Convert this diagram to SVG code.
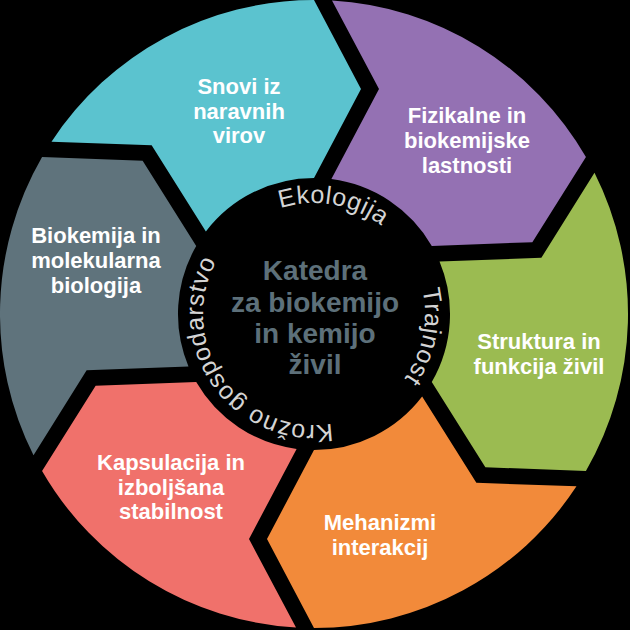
<svg xmlns="http://www.w3.org/2000/svg" width="630" height="630" viewBox="0 0 630 630">
<style>
.lbl{font-family:"Liberation Sans",Arial,sans-serif;font-weight:bold;font-size:22px;fill:#ffffff;text-anchor:middle}
.ttl{font-family:"Liberation Sans",Arial,sans-serif;font-weight:bold;font-size:28px;fill:#5d707a;text-anchor:middle}
.ring{font-family:"Liberation Sans",Arial,sans-serif;font-size:25px;fill:#d4d4d4;letter-spacing:0.6px}
</style>
<defs>
<path id="seg" d="M332,0.5 L379,89 L331.4,179.1 A136 136 0 0 1 431.78,246 L532.35,242.2 L585.93,157 A314 314 0 0 0 332,0.5 Z"/>
<path id="ringpath" d="M369.5,410.13 A111 111 0 0 1 258.5,217.87 A111 111 0 0 1 369.5,410.13"/>
</defs>
<rect x="0" y="0" width="630" height="630" fill="#000000"/>
<g id="seg-teal">
<use href="#seg" transform="rotate(-60 314 314)" fill="#5bc3cf"/>
<text class="lbl"><tspan x="239" y="94">Snovi iz</tspan><tspan x="239" y="119">naravnih</tspan><tspan x="239" y="143">virov</tspan></text>
</g>
<g id="seg-purple">
<use href="#seg" fill="#9471b3"/>
<text class="lbl"><tspan x="467" y="123">Fizikalne in</tspan><tspan x="467" y="148">biokemijske</tspan><tspan x="467" y="173">lastnosti</tspan></text>
</g>
<g id="seg-green">
<use href="#seg" transform="rotate(60 314 314)" fill="#9bbb51"/>
<text class="lbl"><tspan x="539" y="349">Struktura in</tspan><tspan x="539" y="374">funkcija živil</tspan></text>
</g>
<g id="seg-orange">
<use href="#seg" transform="rotate(120 314 314)" fill="#f28a3a"/>
<text class="lbl"><tspan x="380" y="530">Mehanizmi</tspan><tspan x="380" y="555">interakcij</tspan></text>
</g>
<g id="seg-coral">
<use href="#seg" transform="rotate(180 314 314)" fill="#f0716b"/>
<text class="lbl"><tspan x="171" y="470">Kapsulacija in</tspan><tspan x="171" y="495">izboljšana</tspan><tspan x="171" y="519">stabilnost</tspan></text>
</g>
<g id="seg-grey">
<use href="#seg" transform="rotate(240 314 314)" fill="#5f737c"/>
<text class="lbl"><tspan x="96" y="243">Biokemija in</tspan><tspan x="96" y="268">molekularna</tspan><tspan x="96" y="293">biologija</tspan></text>
</g>
<g id="center">
<text class="ttl"><tspan x="315" y="280">Katedra</tspan><tspan x="315" y="312">za biokemijo</tspan><tspan x="315" y="343">in kemijo</tspan><tspan x="315" y="374">živil</tspan></text>
<text class="ring" text-anchor="middle"><textPath href="#ringpath" startOffset="425.8">Ekologija</textPath></text>
<text class="ring" text-anchor="middle"><textPath href="#ringpath" startOffset="602.6">Trajnost</textPath></text>
<text class="ring" text-anchor="middle"><textPath href="#ringpath" startOffset="163.7">Krožno gospodarstvo</textPath></text>
</g>
</svg>
